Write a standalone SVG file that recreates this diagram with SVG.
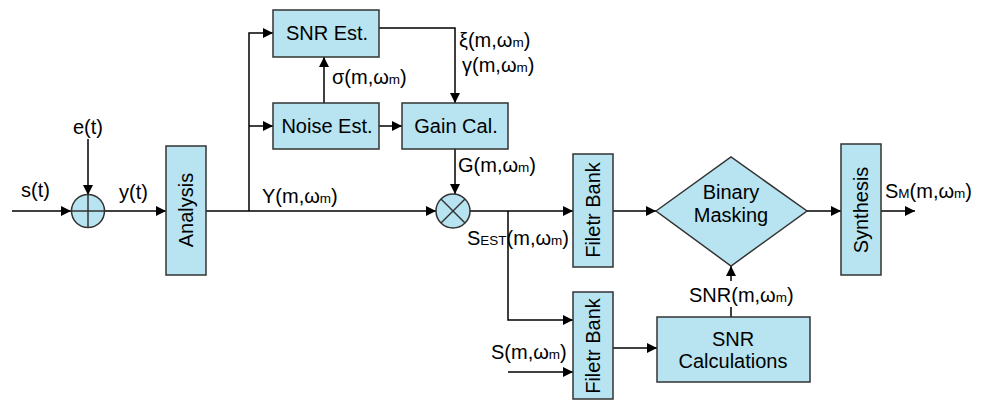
<svg xmlns="http://www.w3.org/2000/svg" width="988" height="402" viewBox="0 0 988 402">
<defs>
<marker id="ah" viewBox="0 0 10 10" refX="10" refY="5" markerWidth="10" markerHeight="10" markerUnits="userSpaceOnUse" orient="auto">
<path d="M0,0 L10,5 L0,10 z" fill="#000"/>
</marker>
<style>
.box{fill:#b7e4f0;stroke:#333;stroke-width:1.5}
.ln{fill:none;stroke:#000;stroke-width:1.5}
.ar{fill:none;stroke:#000;stroke-width:1.5;marker-end:url(#ah)}
text{font-family:"Liberation Sans",Arial,sans-serif;font-size:20px;fill:#000}
.c{text-anchor:middle}
.s{font-size:13.5px}
</style>
</defs>
<rect width="988" height="402" fill="#fff"/>
<g id="connectors">
<line class="ar" x1="12" y1="211" x2="71" y2="211"/>
<line class="ar" x1="88" y1="139" x2="88" y2="195"/>
<line class="ar" x1="104" y1="211" x2="166" y2="211"/>
<polyline class="ln" points="206,211 249,211"/>
<polyline class="ar" points="249,211 249,33 273,33"/>
<line class="ar" x1="249" y1="126" x2="273" y2="126"/>
<line class="ar" x1="324" y1="103" x2="324" y2="57"/>
<line class="ar" x1="379" y1="126" x2="402" y2="126"/>
<polyline class="ar" points="379,28 455,28 455,103"/>
<line class="ar" x1="455" y1="149" x2="455" y2="194"/>
<line class="ar" x1="249" y1="211" x2="436" y2="211"/>
<line class="ar" x1="470" y1="211" x2="573" y2="211"/>
<polyline class="ar" points="508,211 508,320 573,320"/>
<line class="ar" x1="508" y1="372" x2="573" y2="372"/>
<line class="ar" x1="613" y1="211" x2="656" y2="211"/>
<line class="ar" x1="613" y1="348" x2="657" y2="348"/>
<line class="ln" x1="731" y1="317" x2="731" y2="307"/>
<line class="ar" x1="731" y1="281" x2="731" y2="266"/>
<line class="ar" x1="807" y1="211" x2="841" y2="211"/>
<line class="ar" x1="881" y1="211" x2="915" y2="211"/>
</g>
<g id="sum">
<circle cx="88" cy="211" r="16.5" class="box"/>
<line class="ln" x1="71.5" y1="211" x2="104.5" y2="211" style="stroke:#333"/>
<line class="ln" x1="88" y1="194.5" x2="88" y2="227.5" style="stroke:#333"/>
</g>
<g id="analysis">
<rect class="box" x="166" y="146" width="40" height="129"/>
<text class="c" transform="translate(193,210) rotate(-90)">Analysis</text>
</g>
<g id="snr-est">
<rect class="box" x="273" y="10" width="106" height="47"/>
<text class="c" x="327" y="40">SNR Est.</text>
</g>
<g id="noise-est">
<rect class="box" x="273" y="103" width="106" height="46"/>
<text class="c" x="327" y="133">Noise Est.</text>
</g>
<g id="gain-cal">
<rect class="box" x="402" y="103" width="106" height="46"/>
<text class="c" x="456" y="133">Gain Cal.</text>
</g>
<g id="multiplier">
<circle cx="453" cy="211" r="17" class="box"/>
<line class="ln" x1="441" y1="199" x2="465" y2="223" style="stroke:#333"/>
<line class="ln" x1="465" y1="199" x2="441" y2="223" style="stroke:#333"/>
</g>
<g id="filterbank1">
<rect class="box" x="573" y="154" width="40" height="113"/>
<text class="c" transform="translate(600,210) rotate(-90)">Filetr Bank</text>
</g>
<g id="filterbank2">
<rect class="box" x="573" y="292" width="40" height="107"/>
<text class="c" transform="translate(600,346) rotate(-90)">Filetr Bank</text>
</g>
<g id="binary-masking">
<polygon class="box" points="656,211 731,157 807,211 731,266"/>
<text class="c" x="731" y="199">Binary</text>
<text class="c" x="731" y="222">Masking</text>
</g>
<g id="snr-calc">
<rect class="box" x="657" y="317" width="153" height="65"/>
<text class="c" x="733" y="346">SNR</text>
<text class="c" x="733" y="368">Calculations</text>
</g>
<g id="synthesis">
<rect class="box" x="841" y="144" width="40" height="131"/>
<text class="c" transform="translate(868,210) rotate(-90)">Synthesis</text>
</g>
<g id="labels">
<text x="21" y="197">s(t)</text>
<text class="c" x="88" y="134">e(t)</text>
<text x="119" y="199">y(t)</text>
<text x="262" y="203">Y(m,ω<tspan class="s">m</tspan>)</text>
<text x="332" y="84">σ(m,ω<tspan class="s">m</tspan>)</text>
<text x="459" y="47">ξ(m,ω<tspan class="s">m</tspan>)</text>
<text x="462" y="72">γ(m,ω<tspan class="s">m</tspan>)</text>
<text x="458" y="172">G(m,ω<tspan class="s">m</tspan>)</text>
<text x="467" y="245">S<tspan class="s">EST</tspan>(m,ω<tspan class="s">m</tspan>)</text>
<text x="491" y="359">S(m,ω<tspan class="s">m</tspan>)</text>
<text x="689" y="302">SNR(m,ω<tspan class="s">m</tspan>)</text>
<text x="885" y="198">S<tspan class="s">M</tspan>(m,ω<tspan class="s">m</tspan>)</text>
</g>
</svg>
